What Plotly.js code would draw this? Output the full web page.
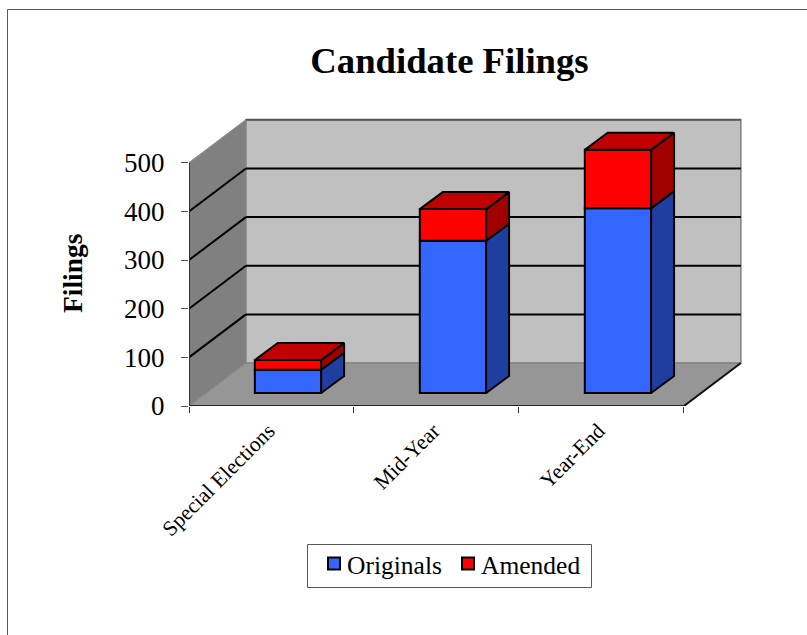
<!DOCTYPE html>
<html><head><meta charset="utf-8">
<script src="https://cdn.plot.ly/plotly-3.0.1.min.js"></script>
<style>
html,body{margin:0;padding:0;background:#fff;overflow:hidden}
#plot{position:absolute;left:0;top:0;width:807px;height:635px}
</style></head><body>
<div id="plot"></div>
<script>
const categories = ["Special Elections", "Mid-Year", "Year-End"];
const originals = [48, 313, 380];
const amended = [20, 65, 120];
const yTicks = [0, 100, 200, 300, 400, 500];
const seriesNames = ["Originals", "Amended"];

const FONT = '"Liberation Serif","Times New Roman",serif';
// oblique-projection constants, in data units
const wallDx = 0.345, wallDy = 88.3;      // depth of the floor
const barDx = 0.139, barDy = 34.9;        // depth of a bar
const inDx = 0.1, inDy = 26.7;            // bar front offset from floor front
const barW = 0.402;
const xL = -0.5, xR = 2.5, yTop = 500;
const labelShift = -0.018;                // tick labels sit slightly left of the category centre

const blue = "#3366ff", blueSide = "#1f3fa0";
const red = "#ff0000", redTop = "#c00000", redSide = "#a00000";

const W = 807, H = 635, M = {l:189, r:62, t:117, b:229};
const pxX = p => (p - M.l) / (W - M.l - M.r);
const pxY = p => 1 - (p - M.t) / (H - M.t - M.b);

function poly(pts) { return "M" + pts.map(p => p[0] + "," + p[1]).join("L") + "Z"; }
const shapes = [];
shapes.push({type:"path", layer:"below", xref:"x", yref:"y", fillcolor:"#808080", line:{color:"#a0a0a0", width:1},
  path: poly([[xL,0],[xL+wallDx,wallDy],[xL+wallDx,yTop+wallDy],[xL,yTop]])});
shapes.push({type:"path", layer:"below", xref:"x", yref:"y", fillcolor:"#c0c0c0", line:{color:"#808080", width:1.5},
  path: poly([[xL+wallDx,wallDy],[xR+wallDx,wallDy],[xR+wallDx,yTop+wallDy],[xL+wallDx,yTop+wallDy]])});
shapes.push({type:"path", layer:"below", xref:"x", yref:"y", fillcolor:"#969696", line:{color:"#808080", width:1},
  path: poly([[xL,0],[xR,0],[xR+wallDx,wallDy],[xL+wallDx,wallDy]])});
yTicks.slice(1).forEach(v => {
  const c = v === yTop ? "#8c8c8c" : "#000";
  shapes.push({type:"line", layer:"below", xref:"x", yref:"y", x0:xL, y0:v, x1:xL+wallDx, y1:v+wallDy, line:{color:c, width:v===yTop?1:2}});
  shapes.push({type:"line", layer:"below", xref:"x", yref:"y", x0:xL+wallDx, y0:v+wallDy, x1:xR+wallDx, y1:v+wallDy, line:{color:v===yTop?"#555":"#000", width:2}});
});
// front floor edge, right floor edge, left axis edge
shapes.push({type:"line", layer:"below", xref:"x", yref:"y", x0:xL, y0:0, x1:xR, y1:0, line:{color:"#222", width:2}});
shapes.push({type:"line", layer:"below", xref:"x", yref:"y", x0:xR, y0:0, x1:xR+wallDx, y1:wallDy, line:{color:"#111", width:2}});
shapes.push({type:"line", layer:"below", xref:"x", yref:"y", x0:xL, y0:0, x1:xL, y1:yTop, line:{color:"#333", width:2}});
// outer chart frame and legend box
shapes.push({type:"path", layer:"below", xref:"paper", yref:"paper", line:{color:"#595959", width:1},
  path:"M" + pxX(7.5) + "," + pxY(635) + "L" + pxX(7.5) + "," + pxY(9.5) + "L" + pxX(807) + "," + pxY(9.5)});
shapes.push({type:"rect", layer:"below", xref:"paper", yref:"paper", fillcolor:"#fff", line:{color:"#595959", width:1},
  x0:pxX(307.5), x1:pxX(591.5), y0:pxY(587.5), y1:pxY(544.5)});

const xc = categories.map((_, i) => i + inDx);
const traces = [
  {type:"bar", name:seriesNames[0], x:xc, y:originals, base:xc.map(() => inDy), width:barW,
   marker:{color:blue, line:{color:"#000", width:2}}, cliponaxis:false},
  {type:"bar", name:seriesNames[1], x:xc, y:amended, base:originals.map(v => v + inDy), width:barW,
   marker:{color:red, line:{color:"#000", width:2}}, cliponaxis:false}
];
function face(pts, color) {
  traces.push({type:"scatter", mode:"lines", x:pts.map(p => p[0]), y:pts.map(p => p[1]), fill:"toself",
    fillcolor:color, line:{color:"#000", width:2}, showlegend:false, hoverinfo:"skip"});
}
categories.forEach((_, i) => {
  const r = xc[i] + barW / 2, l = xc[i] - barW / 2;
  const b = inDy, m = inDy + originals[i], t = m + amended[i];
  face([[r,b],[r+barDx,b+barDy],[r+barDx,m+barDy],[r,m],[r,b]], blueSide);
  face([[r,m],[r+barDx,m+barDy],[r+barDx,t+barDy],[r,t],[r,m]], redSide);
  face([[l,t],[r,t],[r+barDx,t+barDy],[l+barDx,t+barDy],[l,t]], redTop);
});

const layout = {
  width:W, height:H, autosize:false,
  paper_bgcolor:"#fff", plot_bgcolor:"rgba(0,0,0,0)",
  margin:M,
  font:{family:FONT, color:"#000"},
  title:{text:"<b>Candidate Filings</b>", font:{family:FONT, size:36.7, color:"#000"}, x:449.5/807, xanchor:"center", xref:"container", y:1-60/635, yanchor:"middle", yref:"container"},
  barmode:"overlay", bargap:0, showlegend:true,
  xaxis:{range:[-0.5, 2.87], tickmode:"array", tickvals:categories.map((_, i) => i + labelShift), ticktext:categories,
    tickangle:-45, ticks:"", showgrid:false, zeroline:false, showline:false, tickfont:{family:FONT, size:21.5, color:"#000"},
    ticklabelstandoff:7,
    minor:{ticks:"outside", tick0:-0.5, dtick:1, ticklen:6, tickwidth:1, tickcolor:"#333", showgrid:false}},
  yaxis:{range:[0, 594], tickmode:"array", tickvals:yTicks, ticks:"outside", ticklen:7, tickwidth:1, tickcolor:"#555",
    showgrid:false, zeroline:false, showline:false, tickfont:{family:FONT, size:27, color:"#000"}, ticklabelstandoff:11},
  annotations:[{text:"<b>Filings</b>", textangle:-90, xref:"paper", yref:"paper", x:pxX(72), y:pxY(273), xanchor:"center", yanchor:"middle",
    showarrow:false, font:{family:FONT, size:27.5, color:"#000"}}],
  legend:{orientation:"h", x:314/807, xref:"container", xanchor:"left", y:1-564/635, yref:"container", yanchor:"middle",
    bgcolor:"rgba(0,0,0,0)", borderwidth:0, font:{family:FONT, size:25.5, color:"#000"}, traceorder:"normal",
    entrywidth:89, entrywidthmode:"pixels"},
  shapes:shapes
};
Plotly.newPlot("plot", traces, layout, {displayModeBar:false, staticPlot:true}).then(() => {
  // reference places legend labels closer to their swatches
  document.querySelectorAll(".legend .legendtext").forEach(t => t.setAttribute("x", 33));
});
</script>
</body></html>
